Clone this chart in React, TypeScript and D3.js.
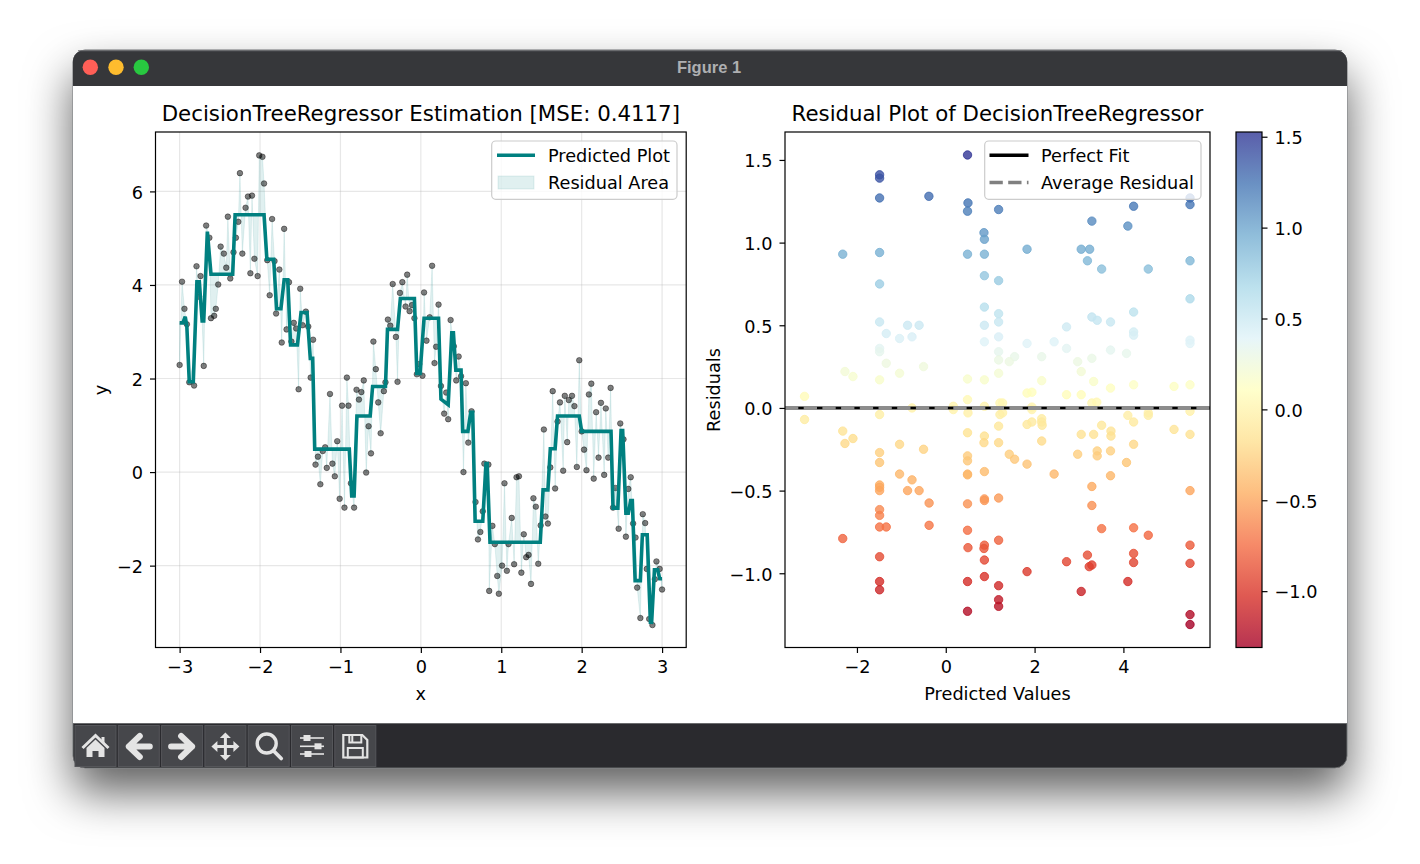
import React, { useEffect, useRef } from "react";
import * as d3 from "d3";

const sampleX = [-3.00,-2.97,-2.94,-2.91,-2.88,-2.82,-2.79,-2.76,-2.74,-2.70,-2.67,-2.63,-2.61,-2.57,-2.55,-2.52,-2.49,-2.45,-2.42,-2.40,-2.37,-2.33,-2.30,-2.27,-2.25,-2.22,-2.18,-2.15,-2.12,-2.10,-2.07,-2.03,-2.01,-1.97,-1.95,-1.91,-1.88,-1.85,-1.82,-1.80,-1.76,-1.73,-1.70,-1.67,-1.64,-1.61,-1.58,-1.55,-1.52,-1.50,-1.47,-1.43,-1.40,-1.37,-1.34,-1.31,-1.28,-1.25,-1.22,-1.19,-1.17,-1.13,-1.10,-1.07,-1.04,-1.01,-0.98,-0.95,-0.92,-0.90,-0.87,-0.83,-0.80,-0.77,-0.74,-0.71,-0.68,-0.65,-0.62,-0.59,-0.56,-0.53,-0.50,-0.46,-0.44,-0.41,-0.38,-0.35,-0.31,-0.29,-0.26,-0.23,-0.19,-0.17,-0.14,-0.11,-0.08,-0.05,-0.02,0.02,0.04,0.07,0.11,0.14,0.17,0.19,0.22,0.25,0.29,0.315,0.34,0.37,0.41,0.44,0.47,0.50,0.53,0.56,0.59,0.63,0.68,0.71,0.74,0.77,0.79,0.84,0.85,0.89,0.92,0.95,0.97,1.01,1.04,1.07,1.09,1.13,1.16,1.19,1.22,1.25,1.28,1.31,1.34,1.37,1.40,1.43,1.46,1.49,1.53,1.55,1.58,1.61,1.64,1.67,1.70,1.73,1.77,1.79,1.82,1.84,1.88,1.91,1.94,1.97,2.00,2.03,2.06,2.09,2.12,2.15,2.18,2.21,2.24,2.28,2.30,2.33,2.36,2.39,2.42,2.46,2.48,2.52,2.55,2.58,2.61,2.64,2.67,2.69,2.73,2.76,2.79,2.81,2.84,2.88,2.91,2.93,2.97,3.00];
const sampleY = [2.29,4.07,3.49,3.16,1.92,1.85,4.40,3.75,4.19,2.27,5.27,5.01,3.29,3.34,3.49,4.01,4.82,4.67,4.37,5.46,4.14,4.70,5.01,5.35,6.39,4.67,5.65,5.89,4.25,5.91,4.56,4.19,6.77,6.74,6.17,4.53,3.78,5.41,4.51,3.39,4.33,2.77,5.20,3.05,4.06,2.79,3.19,3.07,1.77,3.92,3.14,3.43,3.11,2.02,2.83,0.16,0.33,-0.26,0.45,0.53,0.09,1.67,0.18,-0.09,0.66,-0.57,1.42,-0.76,2.02,1.42,-0.24,-0.76,1.76,1.55,1.71,1.96,-0.01,0.98,0.40,2.79,2.20,1.49,0.83,1.73,1.92,3.26,3.13,4.02,2.89,1.93,3.83,4.06,3.54,4.22,3.44,3.57,3.29,2.09,2.31,2.06,3.84,2.81,3.31,4.41,2.33,2.68,3.58,1.84,1.25,1.70,1.13,3.25,2.69,1.96,2.47,2.05,0.00,1.90,0.63,1.30,-0.64,-1.44,-1.28,-0.84,0.18,0.16,-2.54,-1.15,-1.54,-2.22,-2.60,-2.00,-0.24,-2.11,-1.54,-0.98,-1.97,-0.11,-0.09,-2.15,-1.33,-1.82,-1.77,-2.39,-0.56,-0.74,-1.96,-1.14,0.91,-0.95,-1.10,0.10,1.73,-0.35,1.08,1.49,0.03,1.63,0.64,1.54,1.63,1.41,0.11,2.39,0.87,0.48,0.04,1.66,1.89,-0.14,1.28,0.31,1.48,-0.06,1.36,0.31,1.80,-0.76,-0.34,-1.21,1.04,0.70,-1.38,-0.36,-0.11,-1.10,-1.40,-2.47,-3.12,-0.90,-1.09,-2.07,-3.14,-3.27,-2.29,-1.91,-2.07,-2.51];

const predX = [-3.00,-2.96,-2.93,-2.91,-2.88,-2.83,-2.785,-2.755,-2.72,-2.70,-2.655,-2.61,-2.34,-2.31,-1.95,-1.915,-1.83,-1.795,-1.74,-1.70,-1.655,-1.62,-1.535,-1.49,-1.415,-1.375,-1.345,-1.32,-0.89,-0.86,-0.83,-0.795,-0.63,-0.60,-0.44,-0.415,-0.29,-0.255,-0.08,-0.05,-0.01,0.04,0.22,0.25,0.34,0.385,0.405,0.435,0.50,0.52,0.585,0.62,0.645,0.675,0.77,0.81,0.825,0.86,1.485,1.52,1.58,1.61,1.67,1.70,1.97,2.00,2.365,2.39,2.45,2.49,2.51,2.55,2.58,2.61,2.63,2.665,2.73,2.755,2.815,2.855,2.87,2.905,2.945,2.97,3.00];
const predY = [3.19,3.19,3.32,3.11,1.93,1.93,4.07,4.07,3.23,3.23,5.14,4.23,4.23,5.50,5.50,4.55,4.55,3.49,3.49,4.11,4.11,2.72,2.72,3.41,3.41,2.43,2.43,0.49,0.49,-0.51,-0.51,1.20,1.20,1.83,1.83,3.05,3.05,3.71,3.71,2.11,2.11,3.29,3.29,1.56,1.44,2.98,2.98,2.18,2.18,0.87,0.87,1.28,1.28,-1.05,-1.05,0.18,0.18,-1.50,-1.50,-0.38,-0.38,0.50,0.50,1.20,1.20,0.87,0.87,-0.77,-0.77,0.89,0.89,-0.88,-0.88,-0.61,-0.61,-2.32,-2.32,-1.34,-1.34,-3.21,-3.21,-2.09,-2.09,-2.28,-2.28];

const fittedValues = [0.49,-1.49,-1.49,-1.49,-0.38,0.50,0.49,1.19,0.86,0.87,-2.32,-1.49,0.49,0.87,0.87,1.19,-1.49,0.87,1.19,-1.49,-0.86,-0.60,0.87,1.19,-1.34,-0.76,-1.04,1.19,0.87,-1.49,-1.49,1.19,-1.34,-0.50,-2.27,-2.09,-1.04,1.19,1.19,-1.49,0.49,0.87,-3.18,0.49,-0.76,0.17,0.87,1.22,4.23,5.50,5.50,3.29,4.10,1.83,3.05,3.24,3.19,5.50,3.51,4.56,5.50,4.23,3.29,3.41,3.71,2.72,4.23,4.23,1.83,2.44,2.72,3.71,5.50,5.50,4.07,1.55,1.43,2.16,2.97,3.29,3.05,2.16,3.33,3.71,4.23,5.14,5.50,1.83,1.94,2.72,3.05,3.29,3.40,1.28,1.94,-3.18,-1.49,-2.32,-2.09,-2.27,-1.49,-1.04,-0.50,-1.49,-1.04,-0.76,-1.49,-1.49,-1.49,-0.86,-0.60,-0.375,-1.49,-1.49,-1.49,-1.34,-0.375,-2.32,-1.49,-1.49,-1.49,0.50,0.49,0.49,0.49,0.49,0.49,0.49,0.49,0.50,0.49,0.49,0.87,0.86,0.87,0.87,0.87,0.87,0.86,0.87,0.87,1.19,1.19,1.19,1.19,1.19,1.19,1.19,1.22,0.17,1.28,1.94,1.83,1.94,2.16,2.16,2.17,2.16,3.05,3.33,3.51,3.72,3.72,3.41,3.41,2.97,3.71,4.23,4.10,4.23,4.56,4.56,5.14,5.50,1.43,1.55,1.83,4.07,2.44,3.71,3.29,5.50,3.29,3.51,4.23,4.56,5.50,4.23,3.19,2.72,4.23,3.29,3.23,5.50,1.83,4.10,3.05,5.50,5.50,5.50];
const residualValues = [1.53,1.41,1.39,1.27,1.28,1.24,1.19,1.20,1.06,1.02,0.93,0.94,0.93,0.93,0.80,0.77,0.75,0.61,0.57,0.52,0.50,0.50,0.50,0.52,0.45,0.43,0.42,0.43,0.40,0.36,0.34,0.34,0.27,0.25,0.22,0.19,0.21,0.29,0.21,0.17,0.175,0.17,0.07,0.05,0.00,0.01,0.01,0.03,1.22,1.23,1.27,1.13,1.10,0.96,0.96,0.96,0.89,0.89,0.84,0.84,0.66,0.58,0.55,0.53,0.52,0.49,0.46,0.44,0.39,0.40,0.36,0.35,0.41,0.39,0.33,0.31,0.28,0.31,0.28,0.30,0.22,0.165,0.16,0.12,0.14,0.13,0.14,0.09,0.095,0.08,0.08,0.03,0.035,0.03,0.005,-0.07,-0.04,-0.14,-0.185,-0.215,-0.27,-0.22,-0.25,-0.33,-0.40,-0.435,-0.466,-0.48,-0.50,-0.50,-0.50,-0.575,-0.615,-0.65,-0.72,-0.72,-0.71,-0.79,-0.90,-1.05,-1.10,-0.03,-0.15,-0.29,-0.32,-0.40,-0.405,-0.58,-0.74,-0.845,-1.05,-1.23,-0.17,-0.21,-0.385,-0.55,-0.56,-0.83,-0.85,-0.92,-1.02,-0.11,-0.21,-0.545,-0.80,-1.075,-1.16,-1.20,-0.04,-0.01,-0.03,-0.01,-0.10,-0.085,-0.065,-0.085,-0.105,-0.20,-0.16,-0.16,-0.105,-0.14,-0.17,-0.26,-0.29,-0.28,-0.26,-0.22,-0.045,-0.085,-0.03,-0.045,-0.13,-0.16,-0.28,-0.31,-0.34,-0.33,-0.40,-0.41,-0.475,-0.50,-0.59,-0.73,-0.725,-0.77,-0.83,-0.88,-0.89,-0.93,-0.935,-0.95,-0.96,-0.94,-0.99,-1.05,-1.11,-1.25,-1.31,-0.02];

const rdYlBu = ["#a50026","#d73027","#f46d43","#fdae61","#fee090","#ffffbf","#e0f3f8","#abd9e9","#74add1","#4575b4","#313695"];
const leftXTicks = [-3,-2,-1,0,1,2,3];
const leftYTicks = [-2,0,2,4,6];
const rightXTicks = [-2,0,2,4];
const rightYTicks = [-1,-0.5,0,0.5,1,1.5];
const barTicks = [-1,-0.5,0,0.5,1,1.5];
const titles = ["DecisionTreeRegressor Estimation [MSE: 0.4117]","Residual Plot of DecisionTreeRegressor"];
const FONT = "'DejaVu Sans', sans-serif";
const TEAL = "#008080";
const LABEL = 17.7;
const fmt1 = (d: number) => d3.format(".1f")(d).replace("-", "\u2212");
const fmt0 = (d: number) => String(d).replace("-", "\u2212");

function styleAxis(g: any, vertical = false) {
  g.select(".domain").remove();
  g.selectAll(".tick line").attr("stroke", "#000").attr("stroke-width", 1.2);
  g.selectAll(".tick text").attr("font-family", FONT).attr("font-size", LABEL).attr("fill", "#000");
  if (vertical) g.selectAll(".tick text").attr("dy", "0.38em");
}
function text(g: any, x: number, y: number, s: string, size: number, anchor = "middle", rot = 0) {
  const t = g.append("text").attr("font-family", FONT).attr("font-size", size).attr("fill", "#000").attr("text-anchor", anchor).text(s);
  if (rot) t.attr("transform", `translate(${x},${y}) rotate(${rot})`);
  else t.attr("x", x).attr("y", y);
  return t;
}

export default function App() {
  const ref = useRef<SVGSVGElement | null>(null);
  useEffect(() => {
    const svg = d3.select(ref.current);
    svg.selectAll("*").remove();
    const defs = svg.append("defs");
    const f = defs.append("filter").attr("id", "shadow").attr("filterUnits", "userSpaceOnUse").attr("x", 0).attr("y", 0).attr("width", 1420).attr("height", 864);
    f.append("feDropShadow").attr("dx", 0).attr("dy", 24).attr("stdDeviation", 23).attr("flood-color", "#000").attr("flood-opacity", 0.62);

    // Window
    svg.append("rect").attr("x", 73).attr("y", 50).attr("width", 1274).attr("height", 718).attr("rx", 12).attr("fill", "#2b2c2f").attr("stroke", "#6b6c6e").attr("stroke-width", 1).attr("filter", "url(#shadow)");
    const clipW = defs.append("clipPath").attr("id", "win");
    clipW.append("rect").attr("x", 73).attr("y", 50).attr("width", 1274).attr("height", 718).attr("rx", 12);
    svg.append("rect").attr("x", 73).attr("y", 50).attr("width", 1274).attr("height", 36).attr("fill", "#36373a").attr("clip-path", "url(#win)");
    svg.append("line").attr("x1", 78).attr("x2", 1342).attr("y1", 50.7).attr("y2", 50.7).attr("stroke", "#77787a").attr("stroke-width", 1);
    svg.append("rect").attr("x", 73).attr("y", 86).attr("width", 1274).attr("height", 637).attr("fill", "#fff");
    svg.append("line").attr("x1", 73).attr("x2", 1347).attr("y1", 723.5).attr("y2", 723.5).attr("stroke", "#6a6b6d").attr("stroke-width", 1);
    [["#ff5f57", 90.3], ["#febc2e", 116], ["#28c840", 141.3]].forEach(([c, x]) =>
      svg.append("circle").attr("cx", x as number).attr("cy", 67.3).attr("r", 7.7).attr("fill", c as string));
    svg.append("text").attr("x", 709).attr("y", 72.5).attr("text-anchor", "middle").attr("font-family", "'Liberation Sans', sans-serif").attr("font-weight", 700).attr("font-size", 16.5).attr("fill", "#aeafb1").text("Figure 1");

    // Toolbar
    const ICON = "#e4e4e4";
    for (let i = 0; i < 7; i++) {
      const bx = 75 + i * 43.3;
      const b = svg.append("g").attr("transform", `translate(${bx + 20.5},746)`);
      b.append("rect").attr("x", -20.5).attr("y", -20.5).attr("width", 41).attr("height", 41).attr("fill", "#46474b").attr("stroke", "#55565a").attr("stroke-width", 1);
      if (i === 0) {
        b.append("path").attr("d", "M-13,2L0,-10.5L13,2").attr("fill", "none").attr("stroke", ICON).attr("stroke-width", 3);
        b.append("path").attr("d", "M-9,2L0,-6.5L9,2V11H3V5H-3V11H-9Z M6,-9H9V-3L6,-6Z").attr("fill", ICON);
      } else if (i === 1 || i === 2) {
        const s = i === 1 ? 1 : -1;
        b.append("path").attr("d", `M${s * -10},0.5H${s * 11}M${s * 1},-10L${s * -10},0.5L${s * 1},11`).attr("fill", "none").attr("stroke", ICON).attr("stroke-width", 6).attr("stroke-linecap", "round").attr("stroke-linejoin", "round");
      } else if (i === 3) {
        b.append("path").attr("d", "M-12,0.5H12M0,-11.5V12.5").attr("stroke", ICON).attr("stroke-width", 3);
        b.append("path").attr("d", "M-14,0.5L-8,-5V6ZM14,0.5L8,-5V6ZM0,-13.5L-5.5,-8H5.5ZM0,14.5L-5.5,9H5.5Z").attr("fill", ICON);
      } else if (i === 4) {
        b.append("circle").attr("cx", -2).attr("cy", -2.5).attr("r", 9.5).attr("fill", "none").attr("stroke", ICON).attr("stroke-width", 3.4);
        b.append("line").attr("x1", 5).attr("y1", 5).attr("x2", 12.5).attr("y2", 12.5).attr("stroke", ICON).attr("stroke-width", 3.8).attr("stroke-linecap", "round");
      } else if (i === 5) {
        [-8, 0.3, 8].forEach((y, k) => {
          b.append("line").attr("x1", -12).attr("x2", 12).attr("y1", y).attr("y2", y).attr("stroke", ICON).attr("stroke-width", 1.6);
          b.append("rect").attr("x", [-8.5, 2.5, -7.5][k]).attr("y", y - 3).attr("width", 7).attr("height", 6).attr("fill", ICON);
        });
      } else {
        b.append("path").attr("d", "M-12,-11H7L12,-6V11.5H-12Z").attr("fill", "none").attr("stroke", ICON).attr("stroke-width", 2.2);
        b.append("path").attr("d", "M-6,-11V-3.5H6V-11M-3,-11V-3.5").attr("fill", "none").attr("stroke", ICON).attr("stroke-width", 2);
        b.append("rect").attr("x", -7.5).attr("y", 2).attr("width", 15).attr("height", 9.5).attr("fill", "none").attr("stroke", ICON).attr("stroke-width", 2);
      }
    }

    // Left panel
    const L = { l: 155.5, r: 686.2, t: 132, b: 647.5 };
    const xL = d3.scaleLinear().domain([-3.3, 3.3]).range([L.l, L.r]);
    const yL = d3.scaleLinear().domain([-3.75, 7.27]).range([L.b, L.t]);
    const gL = svg.append("g");
    leftXTicks.forEach((t) => gL.append("line").attr("x1", xL(t)).attr("x2", xL(t)).attr("y1", L.t).attr("y2", L.b).attr("stroke", "#b0b0b0").attr("stroke-opacity", 0.3).attr("stroke-width", 1.2));
    leftYTicks.forEach((t) => gL.append("line").attr("y1", yL(t)).attr("y2", yL(t)).attr("x1", L.l).attr("x2", L.r).attr("stroke", "#b0b0b0").attr("stroke-opacity", 0.3).attr("stroke-width", 1.2));
    const order = d3.range(sampleX.length).sort((a, b) => d3.ascending(sampleX[a], sampleX[b]));
    const predAt = d3.scaleLinear().domain(predX).range(predY);
    const area = d3.area<number>().x((i) => xL(sampleX[i])).y0((i) => yL(predAt(sampleX[i]))).y1((i) => yL(sampleY[i]));
    gL.append("path").attr("d", area(order)).attr("fill", TEAL).attr("fill-opacity", 0.12).attr("stroke", TEAL).attr("stroke-opacity", 0.1).attr("stroke-width", 1);
    gL.selectAll("circle.s").data(order).enter().append("circle").attr("cx", (i) => xL(sampleX[i])).attr("cy", (i) => yL(sampleY[i])).attr("r", 2.8).attr("fill", "#000").attr("fill-opacity", 0.5).attr("stroke", "#000").attr("stroke-opacity", 0.45).attr("stroke-width", 0.9);
    const line = d3.line<number>().x((i) => xL(predX[i])).y((i) => yL(predY[i]));
    gL.append("path").attr("d", line(d3.range(predX.length))).attr("fill", "none").attr("stroke", TEAL).attr("stroke-width", 3.6).attr("stroke-linejoin", "miter").attr("stroke-miterlimit", 3);
    gL.append("rect").attr("x", L.l).attr("y", L.t).attr("width", L.r - L.l).attr("height", L.b - L.t).attr("fill", "none").attr("stroke", "#000").attr("stroke-width", 1.2);
    const axLx = gL.append("g").attr("transform", `translate(0,${L.b})`).call(d3.axisBottom(xL).tickValues(leftXTicks).tickSize(5.5).tickPadding(7).tickFormat(fmt0 as any));
    styleAxis(axLx);
    const axLy = gL.append("g").attr("transform", `translate(${L.l},0)`).call(d3.axisLeft(yL).tickValues(leftYTicks).tickSize(5.5).tickPadding(7).tickFormat(fmt0 as any));
    styleAxis(axLy, true);
    text(gL, (L.l + L.r) / 2, 120.5, titles[0], 21.3);
    text(gL, (L.l + L.r) / 2, 699.5, "x", LABEL);
    text(gL, 107, 390, "y", LABEL, "middle", -90);
    // Left legend
    const lg = gL.append("g");
    lg.append("rect").attr("x", 491.7).attr("y", 141).attr("width", 185.3).attr("height", 58.3).attr("rx", 4).attr("fill", "#fff").attr("fill-opacity", 0.8).attr("stroke", "#ccc").attr("stroke-width", 1.2);
    lg.append("line").attr("x1", 497).attr("x2", 535).attr("y1", 155.3).attr("y2", 155.3).attr("stroke", TEAL).attr("stroke-width", 3.6);
    lg.append("rect").attr("x", 498).attr("y", 176).attr("width", 36).attr("height", 13).attr("fill", TEAL).attr("fill-opacity", 0.12).attr("stroke", TEAL).attr("stroke-opacity", 0.1);
    text(lg, 548, 161.5, "Predicted Plot", LABEL, "start");
    text(lg, 548, 188.5, "Residual Area", LABEL, "start");

    // Right panel
    const R = { l: 785, r: 1210, t: 132, b: 647.5 };
    const xR = d3.scaleLinear().domain([-3.62, 5.95]).range([R.l, R.r]);
    const yR = d3.scaleLinear().domain([-1.449, 1.669]).range([R.b, R.t]);
    const vMin = -1.31, vMax = 1.526;
    const color = d3.scaleLinear<string>().domain(d3.range(11).map((i) => vMin + (i / 10) * (vMax - vMin))).range(rdYlBu);
    const gR = svg.append("g");
    gR.selectAll("circle.r").data(d3.range(fittedValues.length)).enter().append("circle").attr("cx", (i) => xR(fittedValues[i])).attr("cy", (i) => yR(residualValues[i])).attr("r", 4.2).attr("fill", (i) => color(residualValues[i])).attr("fill-opacity", 0.8).attr("stroke", (i) => color(residualValues[i])).attr("stroke-opacity", 0.8).attr("stroke-width", 1);
    gR.append("line").attr("x1", R.l).attr("x2", R.r).attr("y1", yR(0)).attr("y2", yR(0)).attr("stroke", "#000").attr("stroke-width", 3);
    gR.append("line").attr("x1", R.l).attr("x2", R.r).attr("y1", yR(0)).attr("y2", yR(0)).attr("stroke", "#8c8c8c").attr("stroke-width", 4).attr("stroke-dasharray", "13.3 5.4");
    gR.append("rect").attr("x", R.l).attr("y", R.t).attr("width", R.r - R.l).attr("height", R.b - R.t).attr("fill", "none").attr("stroke", "#000").attr("stroke-width", 1.2);
    const axRx = gR.append("g").attr("transform", `translate(0,${R.b})`).call(d3.axisBottom(xR).tickValues(rightXTicks).tickSize(5.5).tickPadding(7).tickFormat(fmt0 as any));
    styleAxis(axRx);
    const axRy = gR.append("g").attr("transform", `translate(${R.l},0)`).call(d3.axisLeft(yR).tickValues(rightYTicks).tickSize(5.5).tickPadding(7).tickFormat(fmt1 as any));
    styleAxis(axRy, true);
    text(gR, (R.l + R.r) / 2, 120.5, titles[1], 21.3);
    text(gR, (R.l + R.r) / 2, 699.5, "Predicted Values", LABEL);
    text(gR, 719.5, 390, "Residuals", LABEL, "middle", -90);
    const rg = gR.append("g");
    rg.append("rect").attr("x", 984.7).attr("y", 141).attr("width", 216.3).attr("height", 58.3).attr("rx", 4).attr("fill", "#fff").attr("fill-opacity", 0.8).attr("stroke", "#ccc").attr("stroke-width", 1.2);
    rg.append("line").attr("x1", 989.5).attr("x2", 1028.5).attr("y1", 155.3).attr("y2", 155.3).attr("stroke", "#000").attr("stroke-width", 3.4);
    rg.append("line").attr("x1", 989.5).attr("x2", 1028.5).attr("y1", 182.5).attr("y2", 182.5).attr("stroke", "#808080").attr("stroke-width", 3.4).attr("stroke-dasharray", "13.3 5.4");
    text(rg, 1041, 161.5, "Perfect Fit", LABEL, "start");
    text(rg, 1041, 188.5, "Average Residual", LABEL, "start");

    // Colorbar
    const C = { l: 1236, r: 1262, t: 132, b: 647.5 };
    const yC = d3.scaleLinear().domain([vMin, vMax]).range([C.b, C.t]);
    const grad = defs.append("linearGradient").attr("id", "cb").attr("x1", 0).attr("x2", 0).attr("y1", 1).attr("y2", 0);
    rdYlBu.forEach((c, i) => grad.append("stop").attr("offset", i / 10).attr("stop-color", c));
    gR.append("rect").attr("x", C.l).attr("y", C.t).attr("width", C.r - C.l).attr("height", C.b - C.t).attr("fill", "url(#cb)").attr("fill-opacity", 0.8);
    gR.append("rect").attr("x", C.l).attr("y", C.t).attr("width", C.r - C.l).attr("height", C.b - C.t).attr("fill", "none").attr("stroke", "#000").attr("stroke-width", 1.2);
    const axC = gR.append("g").attr("transform", `translate(${C.r},0)`).call(d3.axisRight(yC).tickValues(barTicks).tickSize(5.5).tickPadding(7).tickFormat(fmt1 as any));
    styleAxis(axC, true);
  }, []);
  return <svg ref={ref} width={1420} height={864} style={{ position: "fixed", left: 0, top: 0, background: "#fff" }} />;
}
